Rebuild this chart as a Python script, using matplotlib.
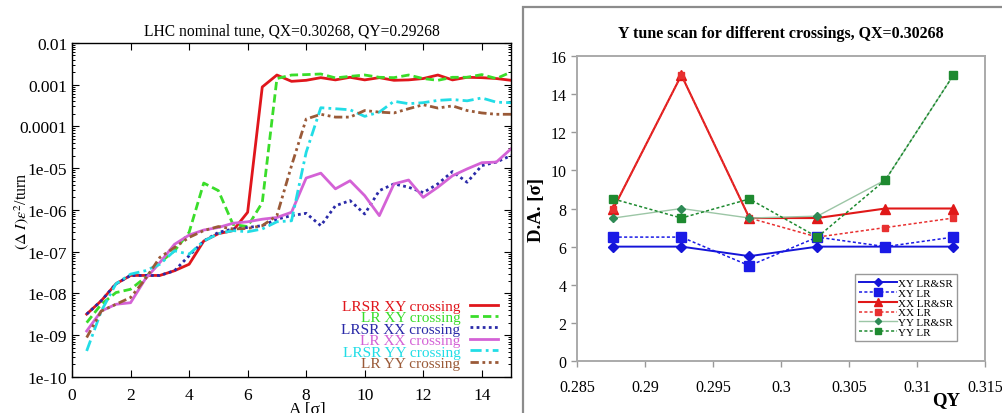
import matplotlib
matplotlib.use("Agg")
import matplotlib.pyplot as plt
from matplotlib.patches import Rectangle
from matplotlib.ticker import LogLocator, MultipleLocator, NullFormatter

plt.rcParams["font.family"] = ["Liberation Serif", "DejaVu Serif"]
plt.rcParams["mathtext.fontset"] = "stix"

# ---- amplitude scan: diffusion per turn vs amplitude ----
amp = [0.5 * i for i in range(1, 31)]

lrsr_xy = [3.2e-9, 6.7e-9, 1.7e-8, 2.7e-8, 2.7e-8, 2.7e-8, 3.5e-8, 5.0e-8, 1.8e-7, 2.7e-7,
           3.2e-7, 8.8e-7, 8.8e-4, 1.7e-3, 1.2e-3, 1.27e-3, 1.47e-3, 1.3e-3, 1.5e-3, 1.3e-3,
           1.47e-3, 1.27e-3, 1.3e-3, 1.4e-3, 1.7e-3, 1.3e-3, 1.5e-3, 1.47e-3, 1.4e-3, 1.27e-3]
lr_xy = [2.0e-9, 5.5e-9, 1.05e-8, 1.26e-8, 2.4e-8, 5.5e-8, 1.05e-7, 2.9e-7, 4.4e-6, 2.9e-6,
         4.5e-7, 4.0e-7, 1.5e-6, 1.4e-3, 1.7e-3, 1.74e-3, 1.8e-3, 1.45e-3, 1.58e-3, 1.7e-3,
         1.5e-3, 1.47e-3, 1.7e-3, 1.4e-3, 1.27e-3, 1.5e-3, 1.5e-3, 1.74e-3, 1.4e-3, 2.0e-3]
lrsr_xx = [3.2e-9, 6.7e-9, 1.7e-8, 2.7e-8, 2.7e-8, 2.7e-8, 3.5e-8, 8.0e-8, 1.8e-7, 2.9e-7,
           3.5e-7, 3.8e-7, 4.2e-7, 6.0e-7, 7.3e-7, 8.3e-7, 4.2e-7, 1.26e-6, 1.67e-6, 8.0e-7,
           2.9e-6, 4.2e-6, 3.5e-6, 2.6e-6, 4.2e-6, 8.3e-6, 4.6e-6, 1.15e-5, 1.4e-5, 2.0e-5]
lr_xx = [1.26e-9, 3.8e-9, 5.5e-9, 6.0e-9, 2.2e-8, 5.5e-8, 1.5e-7, 2.5e-7, 3.3e-7, 3.8e-7,
         4.8e-7, 5.2e-7, 6.0e-7, 6.6e-7, 8.8e-7, 5.8e-6, 7.6e-6, 3.2e-6, 5.0e-6, 2.2e-6,
         7.3e-7, 4.2e-6, 5.2e-6, 2.0e-6, 3.5e-6, 6.6e-6, 9.6e-6, 1.35e-5, 1.4e-5, 2.9e-5]
lrsr_yy = [4.2e-10, 3.8e-9, 1.7e-8, 2.9e-8, 3.5e-8, 5.0e-8, 1.05e-7, 8.7e-8, 1.8e-7, 2.7e-7,
           3.2e-7, 3.0e-7, 3.5e-7, 5.2e-7, 5.5e-7, 2.4e-5, 2.8e-4, 2.65e-4, 2.5e-4, 1.74e-4,
           2.2e-4, 4.0e-4, 3.5e-4, 3.7e-4, 4.2e-4, 4.4e-4, 4.1e-4, 4.8e-4, 3.8e-4, 3.7e-4]
lr_yy = [8.8e-10, 3.8e-9, 5.5e-9, 8.0e-9, 2.2e-8, 7.3e-8, 1.26e-7, 2.2e-7, 3.2e-7, 4.0e-7,
         3.5e-7, 3.6e-7, 4.2e-7, 7.3e-7, 1.15e-5, 1.5e-4, 1.95e-4, 1.67e-4, 1.67e-4, 2.4e-4,
         2.2e-4, 2.1e-4, 2.65e-4, 3.3e-4, 2.75e-4, 3.1e-4, 2.4e-4, 2.1e-4, 1.95e-4, 1.95e-4]

# ---- tune scan: dynamic aperture vs QY ----
qy = [0.28768, 0.29268, 0.29768, 0.30268, 0.30768, 0.31268]
da_xy_lrsr = [6, 6, 5.5, 6, 6, 6]
da_xy_lr = [6.5, 6.5, 5, 6.5, 6, 6.5]
da_xx_lrsr = [8, 15, 7.5, 7.5, 8, 8]
da_xx_lr = [8, 15, 7.5, 6.5, 7, 7.5]
da_yy_lrsr = [7.5, 8, 7.5, 7.6, 9.5, 15]
da_yy_lr = [8.5, 7.5, 8.5, 6.5, 9.5, 15]

fig = plt.figure(figsize=(10.02, 4.14), dpi=100)

# ================= left panel =================
ax1 = fig.add_axes([0.0719, 0.087, 0.4381, 0.807])
ax1.plot(amp, lrsr_xy, color="#e0161c", lw=2.0, ls="-", label="LRSR XY crossing")
ax1.plot(amp, lr_xy, color="#3add2a", lw=2.0, ls=(0, (3, 1.5)), label="LR XY crossing")
ax1.plot(amp, lrsr_xx, color="#2a2aa8", lw=2.0, ls=(0, (1, 1.2)), label="LRSR XX crossing")
ax1.plot(amp, lr_xx, color="#d462d6", lw=2.0, ls="-", label="LR XX crossing")
ax1.plot(amp, lrsr_yy, color="#22dde6", lw=2.0, ls=(0, (4, 1.5, 1, 1.5)), label="LRSR YY crossing")
ax1.plot(amp, lr_yy, color="#9a5a38", lw=2.0, ls=(0, (3, 1.3, 1, 1.3, 1, 1.3)), label="LR YY crossing")

ax1.set_yscale("log")
ax1.set_xlim(0, 15)
ax1.set_ylim(1e-10, 1e-2)
ax1.set_yticks([10.0 ** k for k in range(-10, -1)])
ax1.set_yticklabels(["1e-10", "1e-09", "1e-08", "1e-07", "1e-06", "1e-05", "0.0001", "0.001", "0.01"])
ax1.yaxis.set_minor_locator(LogLocator(base=10, subs=range(2, 10)))
ax1.yaxis.set_minor_formatter(NullFormatter())
ax1.xaxis.set_major_locator(MultipleLocator(2))
ax1.tick_params(which="both", direction="in", top=True, right=True, labelsize=12.5)
ax1.tick_params(which="major", length=5, width=0.8)
ax1.tick_params(which="minor", length=2.5, width=0.7)
ax1.tick_params(axis="x", pad=7)
for sp in ax1.spines.values():
    sp.set_linewidth(1.0)

ax1.set_title("LHC nominal tune, QX=0.30268, QY=0.29268", fontsize=11.2, pad=6)
ax1.set_xlabel("A [σ]", fontsize=12.5, labelpad=0)
ax1.xaxis.set_label_coords(0.537, -0.072)
ax1.set_ylabel(r"$(\Delta\ I)\varepsilon^{2}$/turn", fontsize=11.5)
ax1.yaxis.set_label_coords(-0.094, 0.5)

# tightly packed, right-aligned coloured key in the lower right corner
ax1.legend(loc="lower right", bbox_to_anchor=(0.977, 0.012), frameon=False, markerfirst=False,
           labelcolor="linecolor", fontsize=11, labelspacing=-0.15, handlelength=1.8,
           handletextpad=0.65, borderaxespad=0, borderpad=0.2)

# ================= right panel =================
fig.add_artist(Rectangle((523 / 1002, -0.05), 0.6, 1.05 - 8 / 414, transform=fig.transFigure,
                         fill=False, edgecolor="#8c8c8c", lw=1.6))

ax2 = fig.add_axes([0.5758, 0.1256, 0.4072, 0.7367])
ax2.plot(qy, da_xy_lrsr, color="#1414d8", lw=1.4, ls="-", marker="D", ms=5, label="XY LR&SR")
ax2.plot(qy, da_xy_lr, color="#1a1ae6", lw=1.1, ls=(0, (2, 1.5)), marker="s", ms=6.5, label="XY LR")
ax2.plot(qy, da_xx_lrsr, color="#e01818", lw=1.5, ls="-", marker="^", ms=7, label="XX LR&SR")
ax2.plot(qy, da_xx_lr, color="#e83030", lw=1.1, ls=(0, (2, 1.5)), marker="s", ms=5, label="XX LR")
ax2.plot(qy, da_yy_lrsr, color="#9cc6a6", lw=1.0, ls="-", marker="D", ms=4, mfc="#2e8a55",
         mec="#2e8a55", label="YY LR&SR")
ax2.plot(qy, da_yy_lr, color="#1e8a30", lw=1.1, ls=(0, (2, 1.5)), marker="s", ms=5.5, label="YY LR")

ax2.set_xlim(0.285, 0.315)
ax2.set_ylim(0, 16)
ax2.set_xticks([0.285, 0.29, 0.295, 0.3, 0.305, 0.31, 0.315])
ax2.set_xticklabels(["0.285", "0.29", "0.295", "0.3", "0.305", "0.31", "0.315"])
ax2.set_yticks(range(0, 17, 2))
ax2.tick_params(direction="out", length=4, width=1.0, color="#999999", labelsize=11.5)
ax2.tick_params(axis="x", pad=9)
for sp in ax2.spines.values():
    sp.set_color("#aaaaaa")
    sp.set_linewidth(1.4)

ax2.set_title("Y tune scan for different crossings, QX=0.30268", fontsize=11.5,
              fontweight="bold", pad=14)
ax2.set_ylabel("D.A. [σ]", fontsize=13.5, fontweight="bold")
ax2.yaxis.set_label_coords(-0.078, 0.5)
ax2.set_xlabel("QY", fontsize=13.5, fontweight="bold")
ax2.xaxis.set_label_coords(0.905, -0.1)

ax2.legend(loc="lower right", bbox_to_anchor=(0.931, 0.066), fontsize=8, frameon=True,
           fancybox=False, edgecolor="#999999", framealpha=1, labelspacing=0.0,
           handlelength=3.4, handletextpad=0.1, borderpad=0.35, borderaxespad=0,
           markerscale=0.8)

fig.savefig("out.png", dpi=100)
